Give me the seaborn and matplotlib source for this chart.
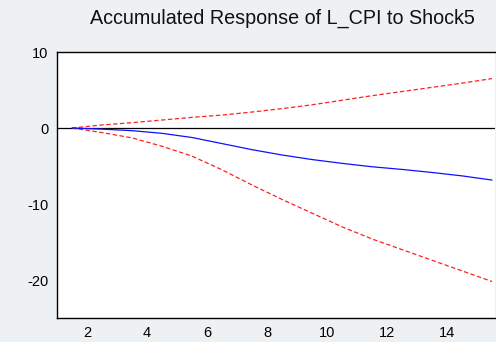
import matplotlib
matplotlib.use("Agg")
import matplotlib.pyplot as plt
import seaborn as sns
import pandas as pd
import numpy as np

periods = list(range(1, 16))
response = [0.0, -0.15, -0.35, -0.7, -1.25, -2.05, -2.85, -3.55, -4.15, -4.65, -5.1, -5.45, -5.85, -6.3, -6.85]
upper = [0.0, 0.4, 0.7, 1.05, 1.4, 1.7, 2.1, 2.55, 3.05, 3.65, 4.25, 4.8, 5.35, 5.9, 6.5]
lower = [0.0, -0.6, -1.3, -2.4, -3.7, -5.5, -7.5, -9.4, -11.2, -13.0, -14.6, -16.0, -17.4, -18.8, -20.2]
xtick_labels = ["", "2", "", "4", "", "6", "", "8", "", "10", "", "12", "", "14", ""]
ytick_vals = [10, 0, -10, -20]
title = "Accumulated Response of L_CPI to Shock5"

sns.set_style("white")
plt.rcParams['font.family'] = ['Liberation Sans', 'DejaVu Sans']

df = pd.DataFrame({"period": periods, "response": response, "upper": upper, "lower": lower})

fig = plt.figure(figsize=(4.96, 3.42), dpi=100)
fig.patch.set_facecolor("#eef1f4")
ax = fig.add_axes([57/496, 24/342, 438/496, 266/342])
ax.set_facecolor("white")

ax.axhline(0, color="black", lw=0.9, zorder=1)
sns.lineplot(data=df, x="period", y="upper", ax=ax, color="#ff2020", lw=0.9, linestyle=(0, (3.5, 2)))
sns.lineplot(data=df, x="period", y="lower", ax=ax, color="#ff2020", lw=0.9, linestyle=(0, (3.5, 2)))
sns.lineplot(data=df, x="period", y="response", ax=ax, color="#1010ff", lw=0.9)

ax.set_xlim(0.5, 15.1)
ax.set_ylim(-25, 10)
ax.set_xticks([p - 0.5 for p in periods])
ax.set_xticklabels(xtick_labels)
ax.set_yticks(ytick_vals)
ax.set_yticklabels([str(v) for v in ytick_vals])
ax.tick_params(axis="both", direction="out", length=4, width=0.8, colors="black", labelsize=10.5, pad=2)
ax.set_xlabel("")
ax.set_ylabel("")
for s in ["left", "top", "bottom"]:
    ax.spines[s].set_color("black")
    ax.spines[s].set_linewidth(1.0)
ax.spines["right"].set_visible(False)

fig.text(282/496, 1 - 18/342, title, ha="center", va="center", fontsize=14.2, color="#111111")

fig.savefig("out.png", dpi=100, facecolor=fig.get_facecolor())
